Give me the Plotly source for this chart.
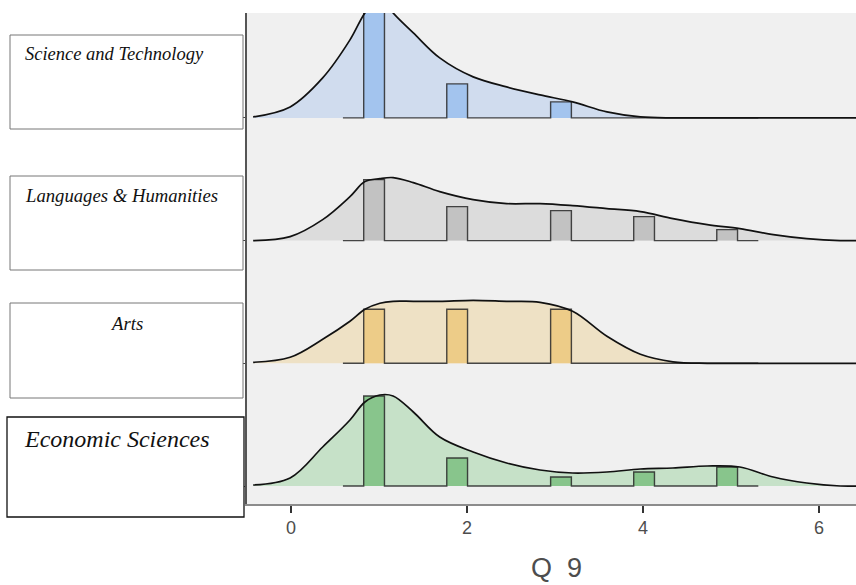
import plotly.graph_objects as go

# ---------------- data ----------------
categories = ["Economic Sciences", "Arts", "Languages & Humanities", "Science and Technology"]
values = [1, 2, 3, 4, 5]

# histogram heights (density-scaled) for answer values 1..5
econ_hist = [90, 28, 9, 14, 19]
arts_hist = [54, 54, 54, 0, 0]
lang_hist = [61, 34, 30, 24, 11]
sci_hist = [125, 34, 16, 0, 0]

# smoothed density
x_grid = [-0.43, -0.01, 0.36, 0.67, 0.84, 1.01, 1.16, 1.39, 1.69, 2.07, 2.45,
          2.83, 3.20, 3.59, 3.97, 4.34, 4.73, 5.10, 5.48, 5.86, 6.24, 6.45]
econ_density = [1, 8, 39, 66, 84, 91, 90, 74, 49, 34, 23, 16, 13, 14, 17, 18, 20, 19, 9, 3, 0, 0]
arts_density = [1, 6, 24, 42, 54, 60, 62, 62, 62, 63, 62, 61, 52, 27, 9, 1.5, 0, 0, 0, 0, 0, 0]
lang_density = [0, 4, 21, 44, 59, 62, 63, 58, 49, 41, 37, 37, 35, 32, 29, 22, 16, 12, 6, 2, 0, 0]
sci_density = [1, 11, 40, 78, 105, 122, 105, 85, 60, 41, 31, 23, 16, 6, 1, 0, 0, 0, 0, 0, 0, 0]

x_ticks = [0, 2, 4, 6]
x_title = "Q\u00a0 9"

# ---------------- styling / layout constants ----------------
W, H = 856, 585
PL, PR, PT, PB = 247, 856, 13, 504  # plot area in pixels
hist_start, bin_width, n_bins = 0.59, 0.236, 20
spacing = 122.7
offsets = [0, spacing, 2 * spacing, 3 * spacing]
dens_fill = ["#C6E1C8", "#EEE1C5", "#DCDCDC", "#D0DCEE"]
bar_fill = ["#88C58C", "#EDCC88", "#C2C2C2", "#A3C4EE"]
hists = [econ_hist, arts_hist, lang_hist, sci_hist]
dens = [econ_density, arts_density, lang_density, sci_density]

fig = go.Figure()

for k in range(4):
    off = offsets[k]
    # density fill
    fig.add_trace(go.Scatter(x=x_grid, y=[off] * len(x_grid), mode="lines",
                             line=dict(width=0), hoverinfo="skip", showlegend=False))
    fig.add_trace(go.Scatter(x=x_grid, y=[off + d for d in dens[k]], mode="lines",
                             line=dict(width=0, shape="spline"), fill="tonexty",
                             fillcolor=dens_fill[k], hoverinfo="skip", showlegend=False))
    # histogram (step outline)
    bins = [0] * n_bins
    for v, h in zip(values, hists[k]):
        idx = int((v - hist_start) // bin_width)
        bins[idx] = h
    hx, hy = [hist_start], [off]
    for i in range(n_bins):
        e0 = hist_start + i * bin_width
        e1 = e0 + bin_width
        hx += [e0, e1]
        hy += [off + bins[i], off + bins[i]]
    hx.append(hist_start + n_bins * bin_width)
    hy.append(off)
    fig.add_trace(go.Scatter(x=hx, y=hy, mode="lines", fill="toself",
                             fillcolor=bar_fill[k],
                             line=dict(color="rgba(40,40,40,0.85)", width=1.4),
                             hoverinfo="skip", showlegend=False))
    # density line
    fig.add_trace(go.Scatter(x=x_grid, y=[off + d for d in dens[k]], mode="lines",
                             line=dict(color="#111111", width=1.7, shape="spline"),
                             hoverinfo="skip", showlegend=False))


def px(xp):
    return (xp - PL) / (PR - PL)


def py(yp):
    return (PB - yp) / (PB - PT)


# label boxes
boxes = [(10, 35, 243, 129, "#777777", 1), (10, 176, 243, 270, "#777777", 1),
         (10, 303, 243, 398, "#777777", 1), (7, 417, 244, 517, "#111111", 1.3)]
for x0, y0, x1, y1, c, w in boxes:
    fig.add_shape(type="rect", xref="paper", yref="paper",
                  x0=px(x0), x1=px(x1), y0=py(y1), y1=py(y0),
                  line=dict(color=c, width=w), fillcolor="white", layer="above")

labels = [
    ("Science and Technology", 23, 54, "left", 18.5),
    ("Languages & Humanities", 23, 195, "left", 18.7),
    ("Arts", 126, 323, "center", 18.7),
    ("Economic Sciences", 22, 439, "left", 24),
]
for txt, xp, yp, anc, fs in labels:
    fig.add_annotation(text="<i>" + txt + "</i>", xref="paper", yref="paper",
                       x=px(xp), y=py(yp), xanchor=anc, yanchor="middle",
                       showarrow=False,
                       font=dict(family="Liberation Serif", size=fs, color="#111111"))

fig.add_annotation(text=x_title, xref="paper", yref="paper", x=px(556), y=py(568),
                   xanchor="center", yanchor="middle", showarrow=False,
                   font=dict(family="Liberation Sans", size=27, color="#4d4d4d"))

fig.update_layout(
    width=W, height=H, autosize=False,
    margin=dict(l=PL, r=W - PR, t=PT, b=H - PB, pad=0),
    paper_bgcolor="white", plot_bgcolor="#F0F0F0",
    showlegend=False,
    xaxis=dict(range=[-0.5, 6.42], tickvals=x_ticks, ticktext=[str(t) for t in x_ticks],
               ticks="outside", ticklen=7, tickwidth=1.5, tickcolor="#333333",
               showline=True, linecolor="#8c8c8c", linewidth=1.5,
               showgrid=False, zeroline=False,
               tickfont=dict(family="Liberation Sans", size=18, color="#4d4d4d")),
    yaxis=dict(range=[-18, 473], tickvals=offsets, ticks="outside", ticklen=4,
               tickwidth=1.3, tickcolor="#444444", showticklabels=False,
               showline=True, linecolor="#555555", linewidth=1.6,
               showgrid=False, zeroline=False),
)

fig.write_html("out.html", config={"displayModeBar": False},
               post_script="document.body.style.margin='0';document.body.style.overflow='hidden';")
